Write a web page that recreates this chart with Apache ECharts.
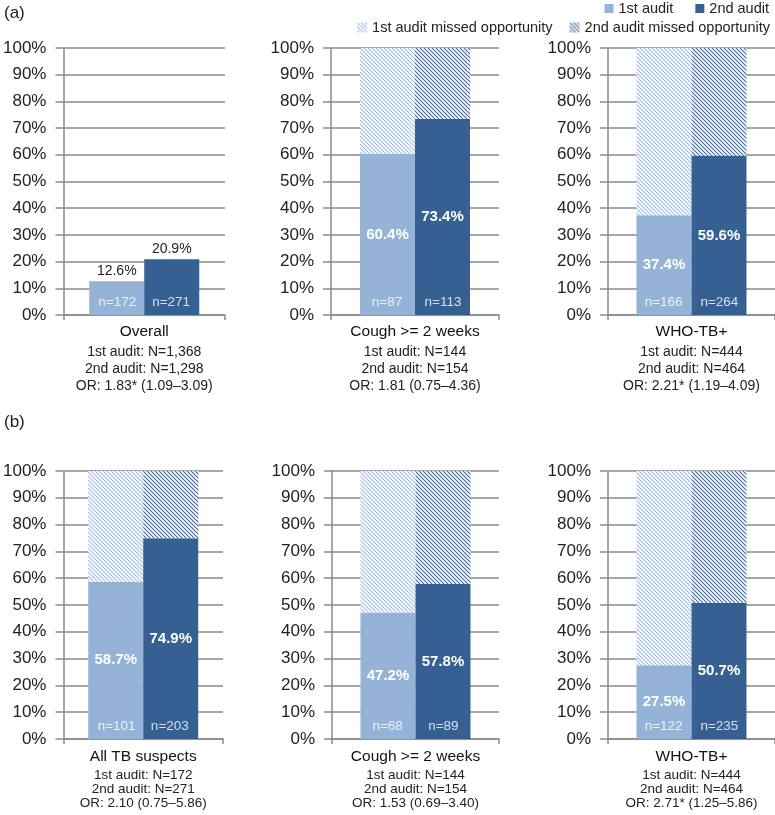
<!DOCTYPE html>
<html>
<head>
    <meta charset="UTF-8">
    <title>TB audit</title>
    <style>
        html, body { margin: 0; padding: 0; background: #fff; }
        #chart { width: 775px; height: 815px; }
    </style>
    <script src="https://cdn.jsdelivr.net/npm/echarts@6/dist/echarts.min.js"></script>
</head>
<body>
    <div id="chart"></div>
<script>
    // values
    var panelNames = ['Overall', 'Cough >= 2 weeks', 'WHO-TB+', 'All TB suspects', 'Cough >= 2 weeks', 'WHO-TB+'];
    var firstPct = [12.6, 60.4, 37.4, 58.7, 47.2, 27.5];
    var secondPct = [20.9, 73.4, 59.6, 74.9, 57.8, 50.7];
    var firstMissed = [null, 39.6, 62.6, 41.3, 52.8, 72.5];
    var secondMissed = [null, 26.6, 40.4, 25.1, 42.2, 49.3];
    var firstN = [172, 87, 166, 101, 68, 122];
    var secondN = [271, 113, 264, 203, 89, 235];
    var firstTotal = ['1,368', '144', '444', '172', '144', '444'];
    var secondTotal = ['1,298', '154', '464', '271', '154', '464'];
    var oddsRatio = ['1.83* (1.09–3.09)', '1.81 (0.75–4.36)', '2.21* (1.19–4.09)',
                     '2.10 (0.75–5.86)', '1.53 (0.69–3.40)', '2.71* (1.25–5.86)'];

    var light = '#95B3D7';
    var dark = '#366092';
    var font = "'Liberation Sans', Arial, sans-serif";
    var grey = '#8a8a8a';

    function hatch(color) {
        var c = document.createElement('canvas');
        c.width = 4; c.height = 4;
        var ctx = c.getContext('2d');
        ctx.fillStyle = '#fff';
        ctx.fillRect(0, 0, 4, 4);
        ctx.strokeStyle = color;
        ctx.lineWidth = 1.2;
        ctx.beginPath();
        ctx.moveTo(-1, -1); ctx.lineTo(5, 5);
        ctx.moveTo(-1, 3); ctx.lineTo(1, 5);
        ctx.moveTo(3, -1); ctx.lineTo(5, 1);
        ctx.stroke();
        return { image: c, repeat: 'repeat' };
    }
    var hatchLight = hatch('#a6bede');
    var hatchDark = hatch('#4b6d9c');

    var layout = [
        { left: 60, top: 48, width: 165, height: 267 },
        { left: 331, top: 48, width: 168, height: 267 },
        { left: 608, top: 48, width: 167, height: 267 },
        { left: 58, top: 471, width: 165, height: 268 },
        { left: 332, top: 471, width: 167, height: 268 },
        { left: 608, top: 471, width: 167, height: 268 }
    ];

    var chart = echarts.init(document.getElementById('chart'));
    var grids = [], xAxes = [], yAxes = [], series = [];

    for (var i = 0; i < panelNames.length; i++) {
        var topRow = i < 3;
        grids.push(layout[i]);
        xAxes.push({
            type: 'category',
            gridIndex: i,
            data: [panelNames[i]],
            axisLine: { lineStyle: { color: grey, width: 1.5 } },
            axisTick: { show: true, length: 5, lineStyle: { color: grey, width: 1.5 } },
            axisLabel: {
                interval: 0,
                margin: topRow ? 5 : 7,
                formatter: (function (k) {
                    return function () {
                        return '{t|' + panelNames[k] + '}\n{s|1st audit: N=' + firstTotal[k] +
                            '}\n{s|2nd audit: N=' + secondTotal[k] + '}\n{s|OR: ' + oddsRatio[k] + '}';
                    };
                })(i),
                rich: {
                    t: { fontFamily: font, fontSize: 15.5, color: '#111', lineHeight: topRow ? 24 : 22 },
                    s: { fontFamily: font, fontSize: topRow ? 14 : 13.5, color: '#222', lineHeight: topRow ? 17 : 14 }
                }
            }
        });
        xAxes.push({ type: 'value', gridIndex: i, min: 0, max: 3, show: false });
        yAxes.push({
            type: 'value',
            gridIndex: i,
            min: 0, max: 100, interval: 10,
            axisLine: { show: true, lineStyle: { color: grey, width: 1.5 } },
            axisTick: { show: true, length: 8, lineStyle: { color: grey, width: 1.5 } },
            splitLine: { lineStyle: { color: grey, width: 1.5 } },
            axisLabel: {
                margin: 17,
                fontFamily: font, fontSize: 17, color: '#222',
                formatter: '{value}%'
            }
        });

        var pctLabel = i === 0 ?
            { show: true, position: 'top', distance: 3, color: '#222', fontFamily: font, fontSize: 14,
              formatter: '{c}%' } :
            { show: true, position: 'inside', color: '#fff', fontFamily: font, fontSize: 15,
              fontWeight: 'bold', formatter: '{c}%' };

        series.push({
            name: '1st audit', type: 'bar', xAxisIndex: 2 * i, yAxisIndex: i,
            stack: 'first' + i, barWidth: 55, barGap: '0%',
            itemStyle: { color: light },
            label: pctLabel,
            data: [firstPct[i]]
        });
        series.push({
            name: '1st audit missed opportunity', type: 'bar', xAxisIndex: 2 * i, yAxisIndex: i,
            stack: 'first' + i, barWidth: 55, barGap: '0%',
            itemStyle: { color: hatchLight },
            data: [firstMissed[i]]
        });
        series.push({
            name: '2nd audit', type: 'bar', xAxisIndex: 2 * i, yAxisIndex: i,
            stack: 'second' + i, barWidth: 55, barGap: '0%',
            itemStyle: { color: dark },
            label: pctLabel,
            data: [secondPct[i]]
        });
        series.push({
            name: '2nd audit missed opportunity', type: 'bar', xAxisIndex: 2 * i, yAxisIndex: i,
            stack: 'second' + i, barWidth: 55, barGap: '0%',
            itemStyle: { color: hatchDark },
            data: [secondMissed[i]]
        });
        // n= counts at the foot of each bar
        series.push({
            type: 'scatter', xAxisIndex: 2 * i + 1, yAxisIndex: i,
            symbolSize: 0, z: 5, silent: true,
            label: {
                show: true, position: 'top', distance: 6,
                color: '#fff', fontFamily: font, fontSize: 13.5,
                formatter: function (p) { return p.value[2]; }
            },
            data: [[1, 0, 'n=' + firstN[i]], [2, 0, 'n=' + secondN[i]]]
        });
    }

    var option = {
        backgroundColor: '#fff',
        animation: false,
        title: [
            { text: '(a)', left: -1, top: 0, textStyle: { fontFamily: font, fontSize: 17, fontWeight: 'normal', color: '#222' } },
            { text: '(b)', left: -1, top: 409, textStyle: { fontFamily: font, fontSize: 17, fontWeight: 'normal', color: '#222' } }
        ],
        legend: [
            {
                right: 6, top: 1, padding: 0, itemWidth: 9, itemHeight: 9, itemGap: 22, icon: 'rect',
                textStyle: { fontFamily: font, fontSize: 14.5, color: '#222' },
                data: ['1st audit', '2nd audit']
            },
            {
                right: 5, top: 20, padding: 0, itemWidth: 10, itemHeight: 10, itemGap: 17, icon: 'rect',
                textStyle: { fontFamily: font, fontSize: 14.5, color: '#222' },
                data: ['1st audit missed opportunity', '2nd audit missed opportunity']
            }
        ],
        grid: grids,
        xAxis: xAxes,
        yAxis: yAxes,
        series: series
    };
    chart.setOption(option);
</script>
</body>
</html>
